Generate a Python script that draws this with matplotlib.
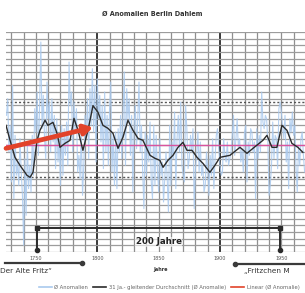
import matplotlib.pyplot as plt
from matplotlib.lines import Line2D
import numpy as np

# Ø Anomalien (yearly), 1726..1969
raw_start = 1726
raw_vals = [
    0.9, 1.4, -0.2, 0.6, -1.1, 1.8, -1.6, 0.3, -0.9, -0.5,
    -1.2, 0.2, -0.8, -1.5, -3.0, -0.4, -2.1, 0.1, -1.3, -0.6,
    -1.4, 0.3, -0.9, 1.1, 0.4, 1.6, -0.3, 1.2, 3.1, 0.5,
    1.5, 0.2, -0.4, 1.9, 0.8, 1.3, -0.2, 1.4, 0.1, 0.9,
    -0.7, 0.8, -0.5, 0.2, -1.2, 0.6, -0.9, 0.5, -0.3, 0.7,
    -0.6, 2.5, 1.2, 1.6, -0.2, 1.3, 0.4, 1.1, -0.8, -0.3,
    -1.0, 0.4, -1.5, -0.6, 0.9, 0.2, 1.4, -0.4, 1.7, 0.6,
    2.3, 0.4, 1.8, -0.5, 2.0, 0.8, 1.5, 0.1, 1.2, -0.7,
    1.6, -0.2, 0.9, -0.6, 1.1, 1.9, -0.8, 0.3, -1.2, 0.4,
    -1.3, 0.5, -0.2, 0.9, -0.4, 1.0, 2.2, -0.6, 1.7, 0.8,
    1.4, -0.3, 0.9, -1.4, 0.6, 1.2, -0.1, 0.8, 1.9, -0.2,
    0.6, -0.8, -1.9, 0.4, -0.9, 0.3, -0.5, 0.7, -1.1, -1.6,
    0.6, -1.2, 0.3, -0.7, -1.4, 0.2, -0.9, -0.5, -1.7, -1.0,
    -0.2, -1.0, -2.0, 0.6, -1.2, 0.1, -0.4, 1.0, -1.3, 0.2,
    0.9, -0.2, 1.3, -0.6, -0.9, -1.1, 1.2, 0.5, -0.7, -0.4,
    0.3, -0.2, 0.5, -1.9, -0.7, -0.3, 0.4, -0.8, 0.1, -0.9,
    -0.6, -1.4, -1.2, -0.2, -0.7, -1.5, -0.3, -0.9, 0.2, -1.3,
    -0.4, 0.3, 0.5, -0.1, -0.6, -0.9, -0.8, 0.2, -0.3, -0.5,
    0.1, -0.6, -0.4, -0.2, 0.3, 0.9, -0.3, 0.2, 0.8, -0.1,
    0.2, -0.5, -0.1, -0.8, 0.4, 0.6, -1.1, 0.1, -0.3, 0.5,
    0.4, -0.2, 0.1, -1.6, 0.5, -0.4, 0.3, -0.2, 1.6, 0.7,
    0.5, 0.9, 0.8, 0.1, -1.5, -1.2, -0.6, 0.7, -0.4, 0.3,
    0.2, -0.7, 1.1, 1.3, 1.0, 0.6, 0.2, 0.9, -0.5, 0.1,
    -1.3, 0.8, 0.4, 1.0, 0.3, 0.6, -0.7, -1.4, 0.0, -0.6,
    0.2, 0.4, -0.3, -0.8,
]
raw_years = np.arange(raw_start, raw_start + len(raw_vals))

# gleitender Durchschnitt
smooth_years = [1725.6, 1728.9, 1732.9, 1737, 1742.7, 1745.2, 1747.6, 1750.9, 1753.3,
                1757.4, 1759.8, 1763.9, 1767.2, 1769.6, 1773.7, 1777.8, 1781, 1784.3,
                1788.3, 1792.4, 1796.5, 1800.6, 1804.6, 1808.7, 1812.8, 1816.9, 1820.9,
                1825, 1829.1, 1833.2, 1837.2, 1843, 1847, 1851, 1853.6, 1857.6, 1861.7,
                1865.8, 1869.8, 1873.1, 1877.2, 1881.3, 1886.1, 1891.8, 1895.9, 1900,
                1908.1, 1916.3, 1922, 1926.9, 1935, 1938.3, 1942.4, 1946.4, 1950.5,
                1954.6, 1958.6, 1963.5, 1967.6]
smooth_vals = [0.60, 0.15, -0.36, -0.60, -0.90, -0.96, -0.81, 0.15, 0.45,
               0.75, 0.60, 0.69, 0.36, -0.06, 0.06, 0.15, 0.81, 0.45,
               -0.15, 0.45, 1.19, 0.99, 0.60, 0.51, 0.36, -0.09, 0.24,
               0.75, 0.45, 0.21, 0.15, -0.30, -0.39, -0.45, -0.66, -0.45, -0.30,
               -0.06, 0.09, -0.15, -0.15, -0.36, -0.54, -0.81, -0.60, -0.36,
               -0.30, -0.06, -0.24, -0.09, 0.15, 0.30, -0.06, -0.06, 0.60,
               0.45, 0.06, -0.06, -0.21]

# lineare Trends
trend1_years = [1725.6, 1796.5]
trend1_vals = [-0.09, 0.54]
trend2_years = [1898.4, 1972]
trend2_vals = [-0.52, 0.30]

mean_val = 0.0
band_vals = [1.3, -0.95]
span_years = [1751, 1949]
span_level = -2.48
tick_years = [1750, 1800, 1850, 1900, 1950]

W, H = 305, 293
fig = plt.figure(figsize=(W / 100, H / 100), dpi=100)
ax = fig.add_axes([6 / W, 1 - 252 / H, 299 / W, 220 / H])

ax.set_xlim(1725.6, 1969.3)
ax.set_ylim(-3.2, 3.4)

# grid
for yr in range(1730, 1970, 10):
    if yr in (1800, 1900):
        ax.axvline(yr, color='#2a2a2a', lw=1.3, zorder=1)
    else:
        ax.axvline(yr, color='#8f8f8f', lw=0.9, zorder=1)
for v in np.arange(-3.2, 3.41, 0.2):
    ax.axhline(v, color='#9c9c9c', lw=0.9, zorder=1)
for v in band_vals:
    ax.axhline(v, color='#555555', lw=1.0, ls=(0, (1.5, 1.5)), zorder=1.5)

ax.plot(raw_years, raw_vals, color='#a9c9ee', lw=0.8, alpha=0.85, zorder=2)
ax.axhline(mean_val, color='#d9549f', lw=1.0, zorder=2.5)
ax.plot(smooth_years, smooth_vals, color='#2b2b2b', lw=1.0, zorder=3)

for ty, tv in ((trend1_years, trend1_vals), (trend2_years, trend2_vals)):
    ax.annotate('', xy=(ty[1], tv[1]), xytext=(ty[0], tv[0]),
                arrowprops=dict(arrowstyle='-|>,head_length=0.5,head_width=0.3',
                                color='#e2432a', lw=3.4, shrinkA=0, shrinkB=0),
                zorder=4)

# 200 Jahre
ax.plot(span_years, [span_level, span_level], color='#2a2a2a', lw=1.4,
        marker='s', ms=2.5, zorder=5)
for yr in span_years:
    ax.plot([yr, yr], [span_level, -3.13], color='#2a2a2a', lw=1.4, zorder=5,
            clip_on=False)
    ax.plot([yr], [-3.13], 'o', color='#2a2a2a', ms=3, zorder=5, clip_on=False)
ax.text(1850, -2.9, '200 Jahre', ha='center', va='center', fontsize=6.2,
        fontweight='bold', color='#222222', zorder=6,
        bbox=dict(facecolor='white', edgecolor='none', alpha=0.6, pad=0.5))

ax.set_xticks(tick_years)
ax.set_xticklabels([str(t) for t in tick_years])
ax.tick_params(axis='x', length=0, labelsize=3.5, labelcolor='#555555', pad=3)
ax.set_yticks([])
for s in ax.spines.values():
    s.set_visible(False)

fig.text(0.5, 1 - 14 / H, 'Ø Anomalien Berlin Dahlem', ha='center', va='center',
         fontsize=4.7, fontweight='bold', color='#333333')
fig.text(160 / W, 1 - 270 / H, 'Jahre', ha='center', va='center',
         fontsize=3.5, fontweight='bold', color='#333333')

fig.text(0.0, 1 - 271 / H, 'Der Alte Fritz“', ha='left', va='center',
         fontsize=5.3, color='#333333')
fig.text(244 / W, 1 - 271 / H, '„Fritzchen M', ha='left', va='center',
         fontsize=5.3, color='#333333')
fig.add_artist(Line2D([5 / W, 82 / W], [1 - 263 / H, 1 - 263 / H], color='#3a3a3a',
                      lw=1.6))
fig.add_artist(Line2D([82 / W], [1 - 263 / H], color='#3a3a3a', marker='o', ms=3))
fig.add_artist(Line2D([235 / W, 1.0], [1 - 264 / H, 1 - 264 / H], color='#3a3a3a', lw=1.6))
fig.add_artist(Line2D([235 / W], [1 - 264 / H], color='#3a3a3a', marker='o', ms=3))

handles = [Line2D([], [], color='#a9c9ee', lw=1.2),
           Line2D([], [], color='#2b2b2b', lw=1.2),
           Line2D([], [], color='#e2432a', lw=1.2)]
labels = ['Ø Anomalien', '31 Ja.- gleitender Durchschnitt (Ø Anomalie)', 'Linear (Ø Anomalie)']
fig.legend(handles, labels, loc='center', bbox_to_anchor=(0.555, 1 - 287 / H), ncol=3,
           frameon=False, fontsize=3.8, handlelength=2.4, columnspacing=1.0,
           handletextpad=0.5, labelcolor='#666666')

fig.savefig('out.png', dpi=100)
